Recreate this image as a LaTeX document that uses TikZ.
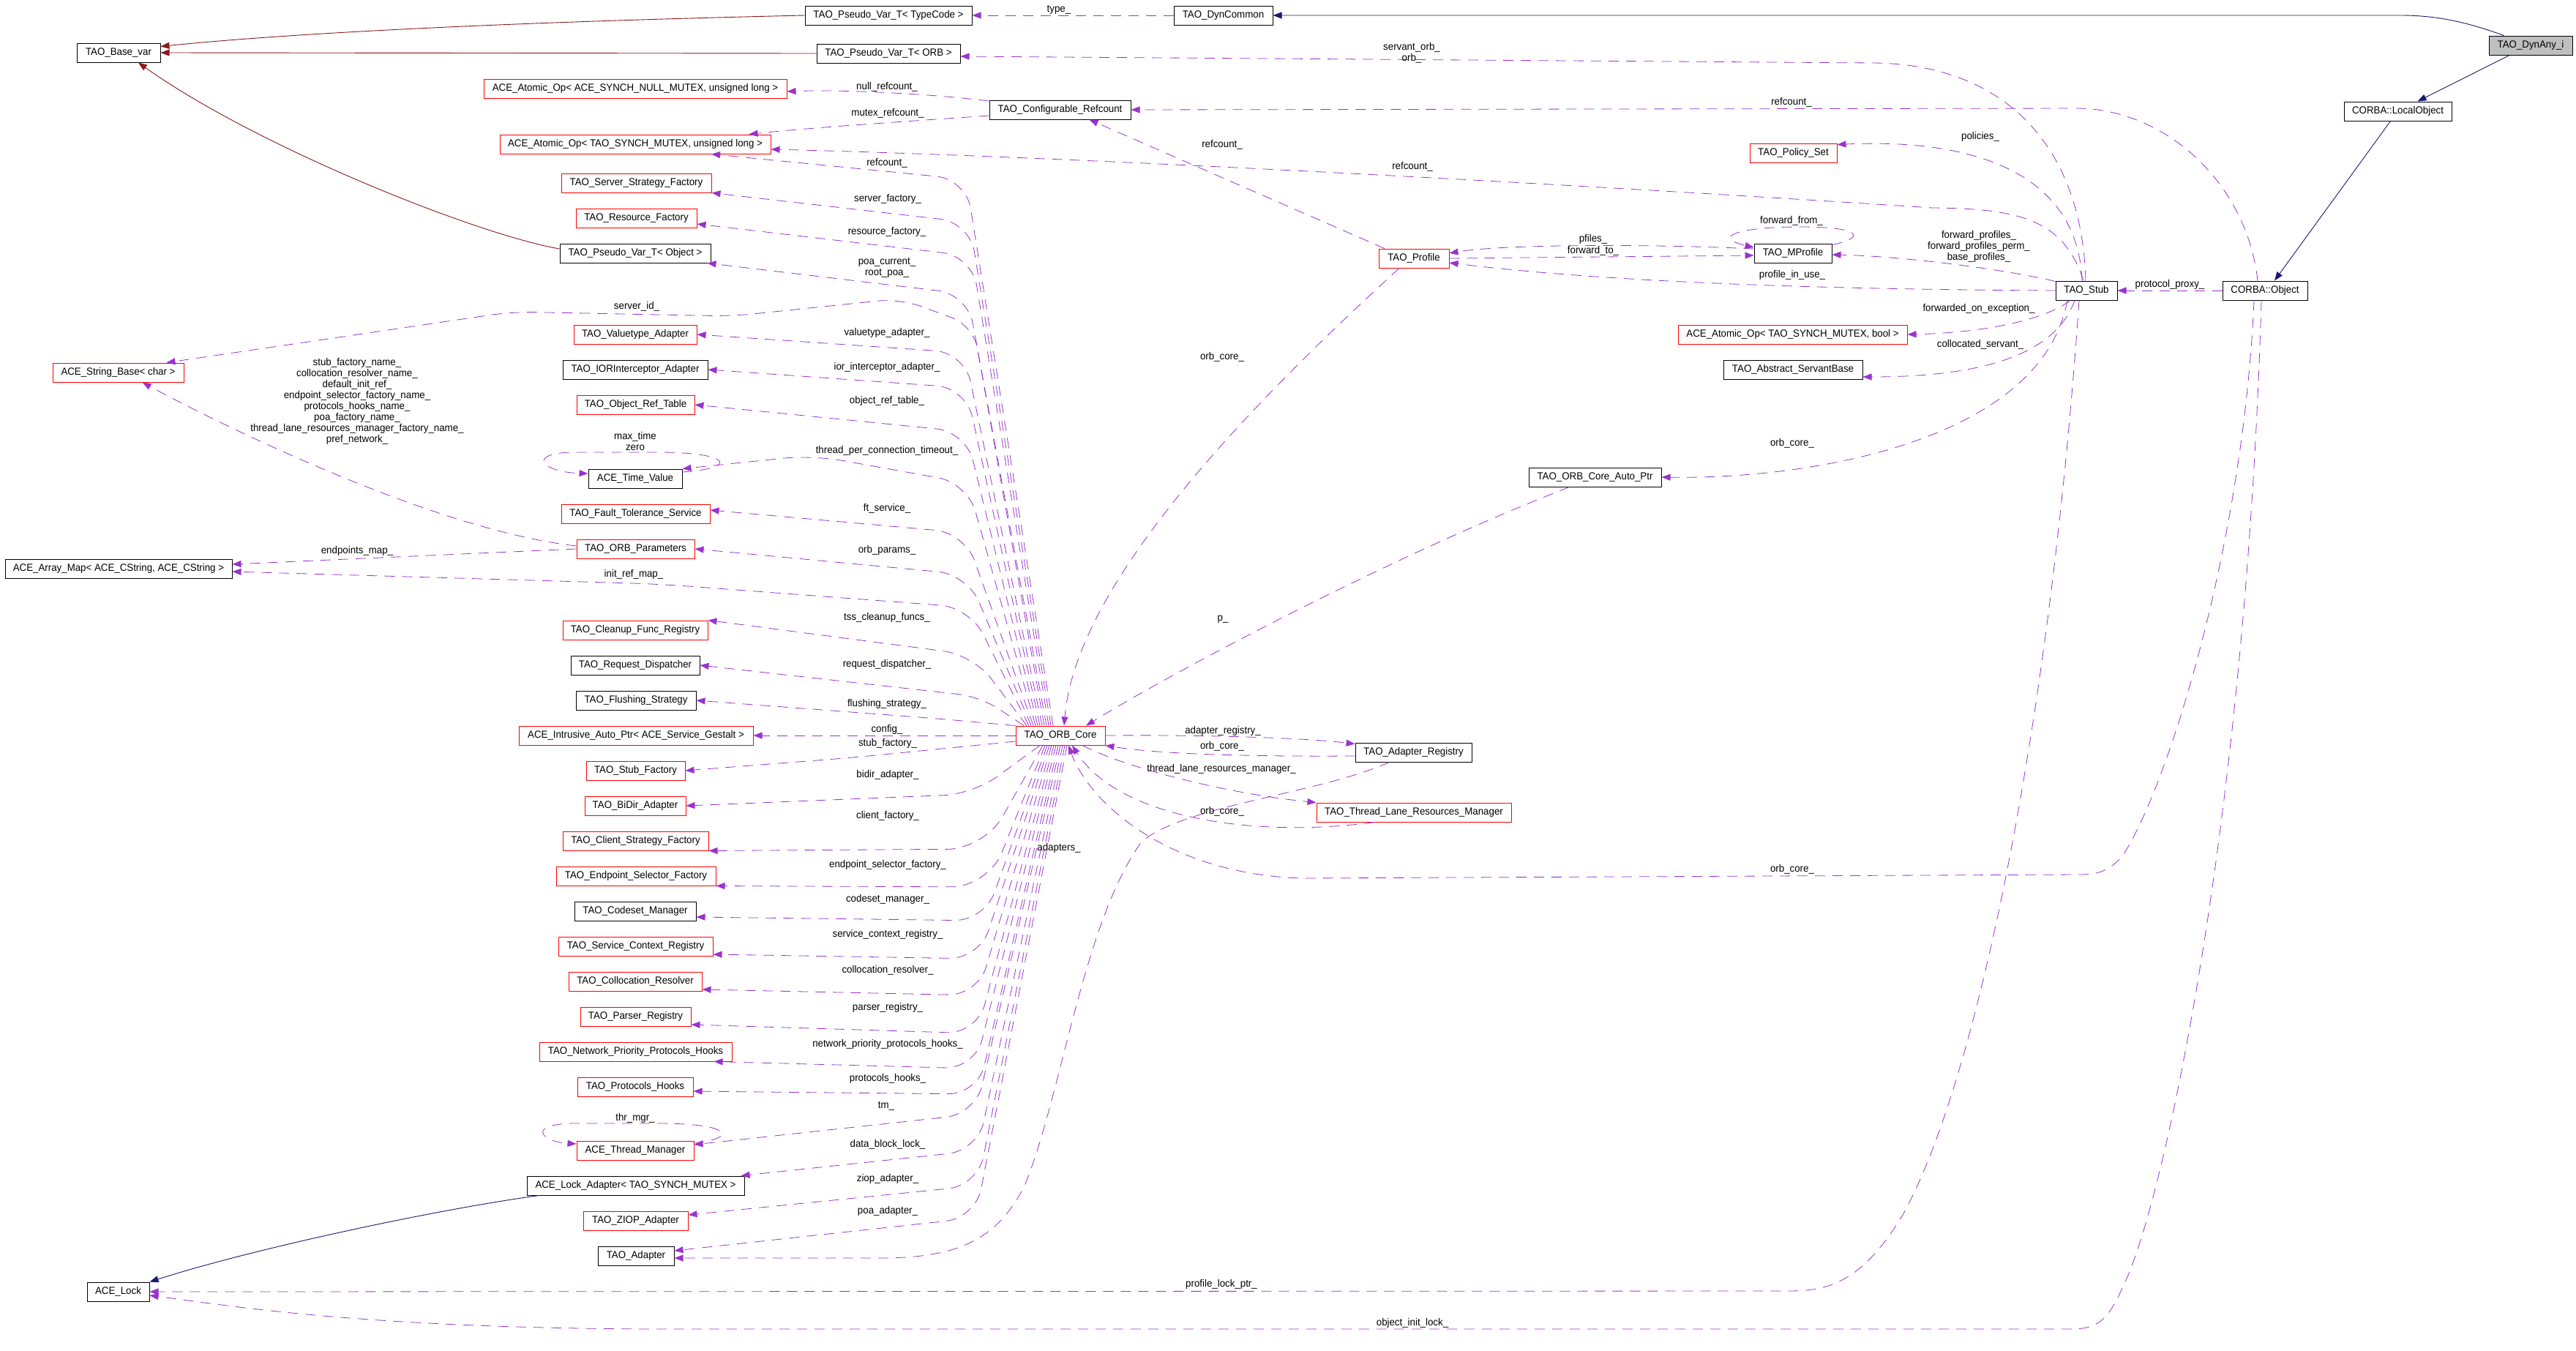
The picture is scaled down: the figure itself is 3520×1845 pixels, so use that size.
\documentclass[tikz,border=0pt]{standalone}
\usepackage{fontspec}
\setmainfont[FakeStretch=0.95]{Liberation Sans}
\usetikzlibrary{arrows.meta}
\definecolor{edgepurple}{HTML}{9A32CD}
\definecolor{inhblue}{HTML}{191970}
\definecolor{tmplred}{HTML}{8B1A1A}
\definecolor{boxgray}{HTML}{BFBFBF}
\begin{document}
\begin{tikzpicture}[x=1pt,y=-1pt,
  every node/.style={font=\fontsize{14}{15}\selectfont},
  cls/.style={draw=black,line width=1pt,minimum height=26pt,inner xsep=2pt,inner ysep=0pt},
  clsred/.style={cls,draw=red},
  lbl/.style={inner sep=0pt,align=center},
  uses/.style={draw=edgepurple,line width=0.8pt,dash pattern=on 14pt off 10pt,-{Triangle[length=12pt,width=9pt]}},
  inh/.style={draw=inhblue,line width=0.9pt,-{Triangle[length=12pt,width=9pt]}},
  tmpl/.style={draw=tmplred,line width=0.9pt,-{Triangle[length=12pt,width=9pt]}}]
\useasboundingbox (0,0) rectangle (3520,1845);

\node[cls,minimum width=114pt] (basevar) at (162,72) {TAO\_Base\_var};
\node[clsred,minimum width=179pt] (strbase) at (161.5,509) {ACE\_String\_Base< char >};
\node[cls,minimum width=310pt] (arraymap) at (162,777) {ACE\_Array\_Map< ACE\_CString, ACE\_CString >};
\node[cls,minimum width=85pt] (acelock) at (161.5,1765) {ACE\_Lock};

\node[cls,minimum width=228pt] (pvtypecode) at (1214,21) {TAO\_Pseudo\_Var\_T< TypeCode >};
\node[cls,minimum width=135pt] (dyncommon) at (1671.5,21) {TAO\_DynCommon};
\node[cls,minimum width=196pt] (pvorb) at (1214,73) {TAO\_Pseudo\_Var\_T< ORB >};
\node[cls,minimum width=193pt] (confref) at (1448.5,150) {TAO\_Configurable\_Refcount};

\node[clsred,minimum width=414pt] (atomnull) at (868,121) {ACE\_Atomic\_Op< ACE\_SYNCH\_NULL\_MUTEX, unsigned long >};
\node[clsred,minimum width=370pt] (atomul) at (868,197) {ACE\_Atomic\_Op< TAO\_SYNCH\_MUTEX, unsigned long >};
\node[clsred,minimum width=205pt] (ssfact) at (869.5,250) {TAO\_Server\_Strategy\_Factory};
\node[clsred,minimum width=165pt] (resfact) at (869.5,298) {TAO\_Resource\_Factory};
\node[cls,minimum width=206pt] (pvobject) at (868,346) {TAO\_Pseudo\_Var\_T< Object >};
\node[clsred,minimum width=168pt] (valuetype) at (868,457) {TAO\_Valuetype\_Adapter};
\node[cls,minimum width=198pt] (iorint) at (868,505) {TAO\_IORInterceptor\_Adapter};
\node[clsred,minimum width=161pt] (objref) at (868.5,553) {TAO\_Object\_Ref\_Table};
\node[cls,minimum width=128pt] (timeval) at (868,654) {ACE\_Time\_Value};
\node[clsred,minimum width=203pt] (ftserv) at (868.5,702) {TAO\_Fault\_Tolerance\_Service};
\node[clsred,minimum width=161pt] (orbparams) at (868.5,750) {TAO\_ORB\_Parameters};
\node[clsred,minimum width=198pt] (cleanup) at (868,861) {TAO\_Cleanup\_Func\_Registry};
\node[cls,minimum width=176pt] (reqdisp) at (868,909) {TAO\_Request\_Dispatcher};
\node[cls,minimum width=164pt] (flushing) at (869,957) {TAO\_Flushing\_Strategy};
\node[clsred,minimum width=320pt] (intrusive) at (869,1005) {ACE\_Intrusive\_Auto\_Ptr< ACE\_Service\_Gestalt >};
\node[clsred,minimum width=135pt] (stubfact) at (868.5,1053) {TAO\_Stub\_Factory};
\node[clsred,minimum width=138pt] (bidir) at (868,1101) {TAO\_BiDir\_Adapter};
\node[clsred,minimum width=199pt] (csfact) at (868.5,1149) {TAO\_Client\_Strategy\_Factory};
\node[clsred,minimum width=218pt] (epsel) at (869,1197) {TAO\_Endpoint\_Selector\_Factory};
\node[cls,minimum width=166pt] (codeset) at (868,1245) {TAO\_Codeset\_Manager};
\node[clsred,minimum width=211pt] (scregistry) at (868.5,1293) {TAO\_Service\_Context\_Registry};
\node[clsred,minimum width=182pt] (colloc) at (868,1341) {TAO\_Collocation\_Resolver};
\node[clsred,minimum width=151pt] (parser) at (868.5,1389) {TAO\_Parser\_Registry};
\node[clsred,minimum width=263pt] (netprio) at (868.5,1437) {TAO\_Network\_Priority\_Protocols\_Hooks};
\node[clsred,minimum width=158pt] (prothooks) at (868,1485) {TAO\_Protocols\_Hooks};
\node[clsred,minimum width=160pt] (thrmgr) at (868,1572) {ACE\_Thread\_Manager};
\node[cls,minimum width=297pt] (lockadapter) at (868.5,1620) {ACE\_Lock\_Adapter< TAO\_SYNCH\_MUTEX >};
\node[clsred,minimum width=143pt] (ziop) at (868.5,1668) {TAO\_ZIOP\_Adapter};
\node[cls,minimum width=104pt] (adapter) at (869,1716) {TAO\_Adapter};

\node[clsred,minimum width=122pt] (orbcore) at (1449,1005) {TAO\_ORB\_Core};
\node[clsred,minimum width=96pt] (profile) at (1932,353) {TAO\_Profile};
\node[cls,minimum width=181pt] (autoptr) at (2179.5,652) {TAO\_ORB\_Core\_Auto\_Ptr};
\node[cls,minimum width=159pt] (adapterreg) at (1931.5,1028) {TAO\_Adapter\_Registry};
\node[clsred,minimum width=266pt] (threadlane) at (1932,1110) {TAO\_Thread\_Lane\_Resources\_Manager};
\node[clsred,minimum width=119pt] (policyset) at (2450.5,209) {TAO\_Policy\_Set};
\node[cls,minimum width=106pt] (mprofile) at (2450,346) {TAO\_MProfile};
\node[clsred,minimum width=313pt] (atombool) at (2449.5,457) {ACE\_Atomic\_Op< TAO\_SYNCH\_MUTEX, bool >};
\node[cls,minimum width=190pt] (servantbase) at (2450,505) {TAO\_Abstract\_ServantBase};
\node[cls,minimum width=84pt] (stub) at (2851,397) {TAO\_Stub};
\node[cls,minimum width=116pt] (corbaobj) at (3095,397) {CORBA::Object};
\node[cls,minimum width=147pt] (localobj) at (3276.5,152) {CORBA::LocalObject};
\node[cls,fill=boxgray,minimum width=114pt] (dynany) at (3458,62) {TAO\_DynAny\_i};

\draw[inh] ([xshift=21pt]dynany.north west) .. controls (3370,30) and (3330,21) .. (3280,21) -- (dyncommon.east);
\draw[inh] ([xshift=-29pt]dynany.south) -- ([xshift=27pt]localobj.north);
\draw[inh] ([xshift=-10pt]localobj.south) -- ([xshift=13pt]corbaobj.north);
\draw[inh] ([xshift=-132pt]lockadapter.south) .. controls (600,1652) and (350,1705) .. (acelock.north east);

\draw[tmpl] (pvtypecode.west) .. controls (700,30) and (400,45) .. ([yshift=-5pt]basevar.north east);
\draw[tmpl] (pvorb.west) -- (basevar.east);
\draw[tmpl] ([yshift=6pt]pvobject.west) .. controls (650,320) and (350,200) .. ([xshift=27pt]basevar.south);

\draw[uses] (dyncommon.west) -- (pvtypecode.east);
\draw[uses] ([xshift=-1pt]stub.north) .. controls (2845,200) and (2740,88) .. (2560,86) -- ([yshift=-4pt]pvorb.east);
\draw[uses] ([yshift=12pt]confref.west) .. controls (1270,128) and (1150,122) .. ([yshift=-4pt]atomnull.east);
\draw[uses] ([yshift=-8pt]confref.west) .. controls (1250,165) and (1100,175) .. ([xshift=-30pt]atomul.north east);
\draw[uses] ([xshift=-10pt]corbaobj.north) .. controls (3070,250) and (2960,150) .. (2840,148) -- (confref.east);
\draw[uses] ([xshift=-40pt]profile.north) -- ([xshift=40pt]confref.south);
\draw[uses] ([xshift=-4pt]stub.north) .. controls (2820,300) and (2760,285) .. (2640,284) .. controls (2200,255) and (1500,215) .. ([yshift=-7pt]atomul.east);
\draw[uses] ([xshift=-6pt]stub.north) .. controls (2840,250) and (2720,188) .. ([yshift=-2pt]policyset.north east);
\draw[uses] ([yshift=6pt]mprofile.west) .. controls (2250,333) and (2050,334) .. ([yshift=7pt]profile.east);
\draw[uses] (profile.east) -- ([yshift=-3pt]mprofile.west);
\draw[uses] ([yshift=-2pt]mprofile.north east) .. controls (2550,325) and (2545,310) .. (2460,310) .. controls (2370,310) and (2340,325) .. ([yshift=8pt]mprofile.west);
\draw[uses] ([yshift=-1pt]stub.north west) .. controls (2740,368) and (2600,350) .. ([yshift=-2pt]mprofile.east);
\draw[uses] (stub.west) .. controls (2400,395) and (2150,380) .. ([yshift=-6pt]profile.east);
\draw[uses] ([xshift=-22pt]stub.south) .. controls (2790,440) and (2700,455) .. (atombool.east);
\draw[uses] ([xshift=-16pt]stub.south) .. controls (2810,480) and (2720,515) .. ([yshift=-10pt]servantbase.east);
\draw[uses] ([xshift=-26pt]stub.south) .. controls (2790,600) and (2480,655) .. (autoptr.east);
\draw[uses] (corbaobj.west) -- (stub.east);
\draw[uses] ([xshift=-35pt]autoptr.south) .. controls (1900,760) and (1600,920) .. ([xshift=35pt]orbcore.north);
\draw[uses] ([xshift=-20pt]profile.south) .. controls (1700,560) and (1470,800) .. ([xshift=5pt]orbcore.north);
\draw[uses] ([xshift=-10pt]stub.south) .. controls (2800,1000) and (2700,1480) .. (2600,1660) .. controls (2540,1760) and (2490,1764) .. (2440,1764) -- (acelock.east);
\draw[uses] ([xshift=-5pt]corbaobj.south) .. controls (3070,1100) and (2960,1640) .. (2900,1760) .. controls (2880,1805) and (2865,1816) .. (2830,1816) -- (900,1816) .. controls (500,1815) and (320,1785) .. ([yshift=-5pt]acelock.east);
\draw[uses] ([xshift=-15pt]corbaobj.south) .. controls (3065,750) and (2960,1080) .. (2900,1170) .. controls (2880,1192) and (2865,1195) .. (2840,1195) -- (1780,1200) .. controls (1600,1195) and (1490,1100) .. ([xshift=11pt]orbcore.south);
\draw[uses] ([xshift=-54pt]threadlane.south) .. controls (1720,1145) and (1530,1120) .. ([xshift=16pt]orbcore.south);
\draw[uses] ([xshift=30pt]orbcore.south) .. controls (1540,1050) and (1680,1085) .. (threadlane.north west);
\draw[uses] (orbcore.east) .. controls (1650,1004) and (1780,1008) .. ([yshift=-2pt]adapterreg.north west);
\draw[uses] ([yshift=-5pt]adapterreg.west) .. controls (1700,1034) and (1580,1030) .. (orbcore.south east);
\draw[uses] ([xshift=-33pt]adapterreg.south) .. controls (1800,1085) and (1620,1100) .. (1560,1150) .. controls (1480,1260) and (1450,1500) .. (1400,1620) .. controls (1360,1700) and (1300,1719) .. (1200,1719) -- ([yshift=-3pt]adapter.east);

\draw[uses,rounded corners=40pt] ([xshift=-10pt]orbcore.north) -- (1320,245) -- ([xshift=104pt]atomul.south);
\draw[uses,rounded corners=40pt] ([xshift=-13pt]orbcore.north) -- (1325,304) -- (ssfact.south east);
\draw[uses,rounded corners=40pt] ([xshift=-16pt]orbcore.north) -- (1328,350) -- ([yshift=-8pt]resfact.east);
\draw[uses,rounded corners=40pt] ([xshift=-19pt]orbcore.north) -- (1322,402) -- ([xshift=-5pt]pvobject.south east);
\draw[uses,rounded corners=30pt] ([xshift=-22pt]orbcore.north) -- (1330,445) -- (1230,408) -- (1000,432) -- (700,426) -- ([xshift=66pt]strbase.north);
\draw[uses,rounded corners=40pt] ([xshift=-25pt]orbcore.north) -- (1318,482) -- (valuetype.east);
\draw[uses,rounded corners=40pt] ([xshift=-28pt]orbcore.north) -- (1320,530) -- (iorint.east);
\draw[uses,rounded corners=40pt] ([xshift=-31pt]orbcore.north) -- (1320,590) -- (objref.east);
\draw[uses,rounded corners=40pt] ([xshift=-34pt]orbcore.north) -- (1322,660) -- (1110,622) -- (timeval.north east);
\draw[uses,rounded corners=40pt] ([xshift=-37pt]orbcore.north) -- (1318,728) -- ([yshift=5pt]ftserv.east);
\draw[uses,rounded corners=40pt] ([xshift=-40pt]orbcore.north) -- (1322,785) -- (orbparams.east);
\draw[uses,rounded corners=40pt] ([xshift=-43pt]orbcore.north) -- (1325,830) -- (900,798) -- ([yshift=-4pt]arraymap.east);
\draw[uses,rounded corners=40pt] ([xshift=-46pt]orbcore.north) -- (1330,895) -- (cleanup.north east);
\draw[uses,rounded corners=30pt] ([xshift=-50pt]orbcore.north) -- (1340,952) -- (reqdisp.east);
\draw[uses,rounded corners=30pt] (orbcore.north west) -- (1282,982) -- (flushing.east);
\draw[uses] (orbcore.west) -- (intrusive.east);
\draw[uses,rounded corners=30pt] ([yshift=-8pt]orbcore.west) -- (1167,1035) -- (stubfact.east);
\draw[uses,rounded corners=40pt] ([xshift=-28pt]orbcore.south) -- (1330,1085) -- (bidir.east);
\draw[uses,rounded corners=50pt] ([xshift=-24pt]orbcore.south) -- (1345,1160) -- (csfact.south east);
\draw[uses,rounded corners=50pt] ([xshift=-21pt]orbcore.south) -- (1350,1212) -- (epsel.south east);
\draw[uses,rounded corners=40pt] ([xshift=-18pt]orbcore.south) -- (1345,1258) -- ([yshift=-8pt]codeset.east);
\draw[uses,rounded corners=40pt] ([xshift=-15pt]orbcore.south) -- (1338,1310) -- ([yshift=-11pt]scregistry.east);
\draw[uses,rounded corners=40pt] ([xshift=-12pt]orbcore.south) -- (1336,1360) -- ([yshift=-11pt]colloc.east);
\draw[uses,rounded corners=40pt] ([xshift=-9pt]orbcore.south) -- (1335,1412) -- ([yshift=-11pt]parser.east);
\draw[uses,rounded corners=40pt] ([xshift=-6pt]orbcore.south) -- (1332,1460) -- ([xshift=-25pt]netprio.south east);
\draw[uses,rounded corners=40pt] ([xshift=-3pt]orbcore.south) -- (1336,1495) -- ([yshift=-6pt]prothooks.east);
\draw[uses,rounded corners=40pt] (orbcore.south) -- (1333,1522) -- ([yshift=8pt]thrmgr.east);
\draw[uses,rounded corners=40pt] ([xshift=3pt]orbcore.south) -- (1336,1572) -- ([xshift=-5pt]lockadapter.north east);
\draw[uses,rounded corners=40pt] ([xshift=6pt]orbcore.south) -- (1336,1620) -- ([yshift=8pt]ziop.east);
\draw[uses,rounded corners=40pt] ([xshift=9pt]orbcore.south) -- (1333,1664) -- ([yshift=7pt]adapter.east);

\draw[uses] ([yshift=9pt]timeval.east) .. controls (1010,640) and (1000,618) .. (900,618) -- (780,618) .. controls (720,620) and (740,645) .. ([yshift=7pt]timeval.west);
\draw[uses] ([yshift=10pt]thrmgr.east) .. controls (1010,1555) and (1000,1535) .. (900,1535) -- (780,1535) .. controls (720,1537) and (740,1560) .. ([yshift=9pt]thrmgr.west);
\draw[uses] (orbparams.west) -- ([yshift=6pt]arraymap.east);
\draw[uses] ([yshift=4pt]orbparams.west) .. controls (600,725) and (320,590) .. ([xshift=33pt]strbase.south);

\node[lbl] (ltype) at (1447,13) {type\_};
\node[lbl] (lnullref) at (1212,119) {null\_refcount\_};
\node[lbl] (lmutexref) at (1213,155) {mutex\_refcount\_};
\node[lbl] (lservorb) at (1929,72) {servant\_orb\_\\orb\_};
\node[lbl] (lrefobj) at (2448,140) {refcount\_};
\node[lbl] (lrefprof) at (1670,198) {refcount\_};
\node[lbl] (lrefstub) at (1930,228) {refcount\_};
\node[lbl] (lreforb) at (1212,223) {refcount\_};
\node[lbl] (lpolicies) at (2706,187) {policies\_};
\node[lbl] (lserverfact) at (1213,272) {server\_factory\_};
\node[lbl] (lresfact) at (1212,317) {resource\_factory\_};
\node[lbl] (lfwdfrom) at (2448,302) {forward\_from\_};
\node[lbl] (lpfiles) at (2177,327) {pfiles\_};
\node[lbl] (lfwdto) at (2177,343) {forward\_to\_};
\node[lbl] (lfwdprof) at (2704,337) {forward\_profiles\_\\forward\_profiles\_perm\_\\base\_profiles\_};
\node[lbl] (lprofinuse) at (2449,376) {profile\_in\_use\_};
\node[lbl] (lprotproxy) at (2965,389) {protocol\_proxy\_};
\node[lbl] (lpoacur) at (1212,366) {poa\_current\_\\root\_poa\_};
\node[lbl] (lserverid) at (870,419) {server\_id\_};
\node[lbl] (lfwdexc) at (2704,422) {forwarded\_on\_exception\_};
\node[lbl] (lvaluetype) at (1212,455) {valuetype\_adapter\_};
\node[lbl] (lcollserv) at (2706,471) {collocated\_servant\_};
\node[lbl] (lorbprof) at (1670,488) {orb\_core\_};
\node[lbl] (liorint) at (1212,502) {ior\_interceptor\_adapter\_};
\node[lbl] (lnames) at (488,548) {stub\_factory\_name\_\\collocation\_resolver\_name\_\\default\_init\_ref\_\\endpoint\_selector\_factory\_name\_\\protocols\_hooks\_name\_\\poa\_factory\_name\_\\thread\_lane\_resources\_manager\_factory\_name\_\\pref\_network\_};
\node[lbl] (lobjref) at (1212,548) {object\_ref\_table\_};
\node[lbl] (lmaxtime) at (868,603) {max\_time\\zero};
\node[lbl] (lorbstub) at (2449,606) {orb\_core\_};
\node[lbl] (ltpct) at (1212,616) {thread\_per\_connection\_timeout\_};
\node[lbl] (lftserv) at (1212,695) {ft\_service\_};
\node[lbl] (lorbparams) at (1212,752) {orb\_params\_};
\node[lbl] (lepmap) at (488,753) {endpoints\_map\_};
\node[lbl] (linitref) at (866,785) {init\_ref\_map\_};
\node[lbl] (lp) at (1671,846) {p\_};
\node[lbl] (ltss) at (1212,844) {tss\_cleanup\_funcs\_};
\node[lbl] (lreqdisp) at (1212,908) {request\_dispatcher\_};
\node[lbl] (lflush) at (1212,962) {flushing\_strategy\_};
\node[lbl] (lconfig) at (1212,997) {config\_};
\node[lbl] (ladapreg) at (1671,999) {adapter\_registry\_};
\node[lbl] (lstubfact) at (1213,1016) {stub\_factory\_};
\node[lbl] (lorbreg) at (1670,1020) {orb\_core\_};
\node[lbl] (ltlrm) at (1669,1051) {thread\_lane\_resources\_manager\_};
\node[lbl] (lbidir) at (1213,1059) {bidir\_adapter\_};
\node[lbl] (lorblane) at (1670,1109) {orb\_core\_};
\node[lbl] (lclient) at (1213,1115) {client\_factory\_};
\node[lbl] (ladapters) at (1447,1159) {adapters\_};
\node[lbl] (lepsel) at (1213,1182) {endpoint\_selector\_factory\_};
\node[lbl] (lorbobj) at (2449,1188) {orb\_core\_};
\node[lbl] (lcodeset) at (1213,1229) {codeset\_manager\_};
\node[lbl] (lscreg) at (1213,1277) {service\_context\_registry\_};
\node[lbl] (lcolloc) at (1213,1326) {collocation\_resolver\_};
\node[lbl] (lparser) at (1213,1377) {parser\_registry\_};
\node[lbl] (lnetprio) at (1213,1427) {network\_priority\_protocols\_hooks\_};
\node[lbl] (lprothooks) at (1213,1474) {protocols\_hooks\_};
\node[lbl] (ltm) at (1211,1511) {tm\_};
\node[lbl] (lthrmgr) at (868,1528) {thr\_mgr\_};
\node[lbl] (ldblock) at (1213,1564) {data\_block\_lock\_};
\node[lbl] (lziop) at (1213,1611) {ziop\_adapter\_};
\node[lbl] (lpoaadap) at (1213,1655) {poa\_adapter\_};
\node[lbl] (lproflock) at (1669,1755) {profile\_lock\_ptr\_};
\node[lbl] (lobjinit) at (1930,1808) {object\_init\_lock\_};
\end{tikzpicture}
\end{document}
